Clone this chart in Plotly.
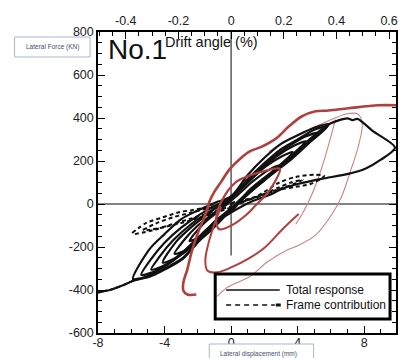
import plotly.graph_objects as go

# ---------------- tick labels ----------------
disp_ticks = [-8, -4, 0, 4, 8]
disp_labels = ["-8", "-4", "0", "4", "8"]
force_ticks = [-600, -400, -200, 0, 200, 400, 600, 800]
force_labels = ["-600", "-400", "-200", "0", "200", "400", "600", "800"]
drift_ticks = [-0.4, -0.2, 0, 0.2, 0.4, 0.6]
drift_labels = ["-0.4", "-0.2", "0", "0.2", "0.4", "0.6"]

# ---------------- total response (black solid), displacement mm / force kN ----------------
loop1_x = [-2.5, -1.8, -0.8, 0.2, 1.2, 2.2, 2.9, 2.3, 1.3, 0.3, -0.7, -1.7, -2.5]
loop1_y = [-172, -150, -85, -10, 60, 125, 178, 160, 105, 35, -30, -95, -172]
loop2_x = [-3.4, -2.6, -1.6, -0.6, 0.4, 1.4, 2.5, 3.7, 3.0, 2.0, 1.0, 0, -1.0, -2.0, -2.8, -3.4]
loop2_y = [-232, -210, -150, -75, 10, 80, 150, 242, 220, 170, 100, 25, -40, -100, -165, -232]
loop3_x = [-4.1, -3.3, -2.3, -1.3, -0.3, 0.7, 1.7, 2.7, 3.7, 4.5, 3.8, 2.8, 1.8, 0.8, -0.2, -1.2, -2.2, -3.3, -4.1]
loop3_y = [-272, -250, -195, -120, -45, 30, 100, 160, 230, 292, 272, 225, 160, 85, 20, -35, -95, -175, -272]
loop4_x = [-4.8, -4.0, -3.0, -2.0, -1.0, 0, 1.0, 2.0, 3.0, 4.2, 5.2, 4.5, 3.5, 2.5, 1.5, 0.5, -0.5, -1.5, -2.5, -3.5, -4.3, -4.8]
loop4_y = [-305, -285, -235, -170, -95, -25, 45, 110, 175, 255, 330, 315, 270, 215, 150, 70, 5, -45, -100, -170, -245, -305]
loop5_x = [-5.4, -4.5, -3.5, -2.5, -1.5, -0.5, 0.5, 1.5, 2.5, 3.5, 4.6, 5.8, 5.0, 4.0, 3.0, 2.0, 1.0, 0, -1.0, -2.0, -3.0, -4.0, -4.8, -5.4]
loop5_y = [-330, -310, -265, -195, -120, -50, 10, 80, 145, 210, 280, 362, 345, 300, 255, 190, 115, 30, -10, -55, -110, -180, -255, -330]
loop6_x = [-5.9, -4.9, -4.0, -2.9, -1.9, -0.9, 0, 1.1, 2.3, 3.5, 4.7, 5.9, 5.0, 4.0, 3.0, 2.0, 1.0, 0, -1.0, -2.0, -3.0, -4.0, -4.9, -5.9]
loop6_y = [-351, -335, -300, -250, -165, -75, -35, 60, 130, 200, 285, 372, 355, 320, 280, 215, 135, 35, 5, -30, -70, -140, -210, -351]
final_x = [-5.9, -4.9, -4.0, -2.9, -1.9, -0.9, 0, 1.1, 2.3, 3.5, 4.7, 5.9, 6.5, 7.0, 7.3, 7.6, 8.5, 9.85,
           9.0, 8.06, 7.04, 5.43, 4.06, 3.04, 2.45, 1.2, 0, -1.0, -2.0, -3.0, -4.0, -5.0, -5.9, -6.5, -7.3, -8.0]
final_y = [-351, -338, -305, -255, -170, -80, -30, 65, 140, 215, 300, 372, 390, 398, 390, 396, 340, 262,
           206, 164, 140, 117, 94, 70, 47, 10, -40, -90, -160, -230, -290, -335, -358, -378, -400, -412]

# ---------------- frame contribution (black dashed) ----------------
frame1_x = [-5.95, -5.1, -4.1, -3.1, -2.3, -1.2, 0, 1.5, 2.9, 3.9, 5.0, 5.6, 4.8, 3.9, 3.0, 2.0, 1.0, 0, -1.2, -2.5, -3.7, -4.7, -5.9]
frame1_y = [-135, -88, -62, -38, -28, -12, 5, 35, 100, 126, 136, 130, 94, 80, 68, 45, 18, -10, -40, -70, -98, -122, -142]
frame2_x = [-5.3, -4.5, -3.5, -2.5, -1.5, 0, 1.5, 2.8, 3.6, 4.3, 3.5, 2.5, 1.2, 0, -1.5, -3.0, -4.3, -5.3]
frame2_y = [-120, -90, -62, -42, -22, 0, 30, 75, 100, 112, 85, 60, 25, -15, -55, -88, -112, -125]
frame_tail_x = [-5.9, -6.5, -7.3, -8.0]
frame_tail_y = [-356, -378, -400, -410]

# ---------------- red overlay curves ----------------
red_outer_x = [9.91, 8.84, 7.04, 5.85, 5.07, 4.24, 3.46, 2.69, 1.85, 1.07, 0.48, -0.12, -0.6, -1.01, -1.31,
               -1.49, -1.91, -2.33, -2.63, -2.87, -2.87, -2.63, -2.09]
red_outer_y = [459, 459, 445, 435, 431, 407, 360, 304, 267, 243, 206, 159, 103, 56, 9,
               -37, -117, -211, -304, -365, -402, -421, -421]
red_lower_x = [4.06, 3.16, 1.97, 1.07, 0, -0.9, -1.43, -1.55, -1.31, -0.96, -0.6]
red_lower_y = [-47, -112, -206, -253, -295, -318, -309, -262, -168, -84, -14]
red_lens_x = [-0.9, -0.6, 0.3, 1.07, 1.85, 2.93, 2.63, 2.15, 1.49, 0.9, 0.06, -0.72, -0.9]
red_lens_y = [-70, 9, 103, 131, 150, 164, 103, 47, -5, -51, -98, -117, -70]
red_thin_x = [2.27, 3.16, 4.06, 5.07, 6.03, 7.04, 7.64, 7.88, 7.64, 7.16, 6.63, 6.03, 5.07, 4.06, 3.34, 2.15, 1.13, -0.24, -0.84]
red_thin_y = [243, 290, 323, 360, 393, 421, 417, 374, 267, 150, 33, -51, -145, -192, -215, -271, -337, -388, -430]
red_thin2_x = [6.27, 6.03, 5.43, 4.84, 4.24, 3.88]
red_thin2_y = [393, 323, 164, 42, -51, -94]


def join(*parts):
    out = []
    for i, p in enumerate(parts):
        if i:
            out.append(None)
        out.extend(p)
    return out


BLACK = "#111111"
RED = "#b0403d"
RED_THIN = "#c98583"

fig = go.Figure()

# red thin curves (drawn first, black on top)
fig.add_trace(go.Scatter(x=red_thin_x, y=red_thin_y, mode="lines", line=dict(color=RED_THIN, width=1.1, shape="spline"),
                         showlegend=False, hoverinfo="skip"))
fig.add_trace(go.Scatter(x=red_thin2_x, y=red_thin2_y, mode="lines", line=dict(color=RED_THIN, width=1.1, shape="spline"),
                         showlegend=False, hoverinfo="skip"))

fig.add_trace(go.Scatter(
    x=join(loop1_x, loop2_x, loop3_x, loop4_x, loop5_x, loop6_x, final_x),
    y=join(loop1_y, loop2_y, loop3_y, loop4_y, loop5_y, loop6_y, final_y),
    mode="lines", line=dict(color=BLACK, width=2.2, shape="spline", smoothing=0.8),
    name="Total response", showlegend=False, hoverinfo="skip", connectgaps=False))
fig.add_trace(go.Scatter(
    x=join(frame1_x, frame2_x, frame_tail_x),
    y=join(frame1_y, frame2_y, frame_tail_y),
    mode="lines", line=dict(color=BLACK, width=2, dash="4px,3px", shape="spline", smoothing=0.8),
    name="Frame contribution", showlegend=False, hoverinfo="skip", connectgaps=False))

fig.add_trace(go.Scatter(x=red_outer_x, y=red_outer_y, mode="lines", line=dict(color=RED, width=2.6, shape="spline"),
                         showlegend=False, hoverinfo="skip"))
fig.add_trace(go.Scatter(x=red_lower_x, y=red_lower_y, mode="lines", line=dict(color=RED, width=2, shape="spline"),
                         showlegend=False, hoverinfo="skip"))
fig.add_trace(go.Scatter(x=red_lens_x, y=red_lens_y, mode="lines", line=dict(color=RED, width=2.2, shape="spline"),
                         showlegend=False, hoverinfo="skip"))

# invisible trace to activate the top (drift) axis
fig.add_trace(go.Scatter(x=[drift_ticks[0]], y=[0], xaxis="x2", yaxis="y", mode="markers",
                         marker=dict(opacity=0), showlegend=False, hoverinfo="skip"))

FONT = "Liberation Sans, Arial, Helvetica, sans-serif"
tickfont = dict(family=FONT, size=12.5, color="#222")

fig.update_layout(
    width=398, height=358,
    margin=dict(l=98, r=0, t=32, b=25),
    paper_bgcolor="white", plot_bgcolor="white",
    font=dict(family=FONT, color="#222"),
    xaxis=dict(range=[-8, 9.91], tickmode="array", tickvals=disp_ticks, ticktext=disp_labels,
               ticks="inside", ticklen=7, tickwidth=1.3, tickcolor="black", ticklabelstandoff=-3,
               minor=dict(tickmode="linear", tick0=0, dtick=1, ticks="inside", ticklen=4, tickwidth=1.2, tickcolor="black"),
               showline=True, linecolor="black", linewidth=1.5, showgrid=False, zeroline=False,
               tickfont=tickfont),
    xaxis2=dict(range=[-8 * 0.0632, 9.91 * 0.0632], overlaying="x", side="top", anchor="y",
                tickmode="array", tickvals=drift_ticks, ticktext=drift_labels,
                ticks="inside", ticklen=7, tickwidth=1.3, tickcolor="black",
                minor=dict(tickmode="linear", tick0=0, dtick=0.05, ticks="inside", ticklen=4, tickwidth=1.2, tickcolor="black"),
                showline=True, linecolor="black", linewidth=1.5, showgrid=False, zeroline=False,
                tickfont=tickfont),
    yaxis=dict(range=[-600, 800], tickmode="array", tickvals=force_ticks, ticktext=force_labels,
               ticks="inside", ticklen=7, tickwidth=1.3, tickcolor="black",
               minor=dict(tickmode="linear", tick0=0, dtick=50, ticks="inside", ticklen=4, tickwidth=1.2, tickcolor="black"),
               showline=True, linecolor="black", linewidth=1.5, mirror="ticks",
               showgrid=False, zeroline=False, tickfont=tickfont),
)

# reference cross lines
fig.add_shape(type="line", xref="x", yref="y", x0=-8, x1=9.91, y0=0, y1=0,
              line=dict(color="#5a5a5a", width=1.5), layer="below")
fig.add_shape(type="line", xref="x", yref="y", x0=0, x1=0, y0=800, y1=-239,
              line=dict(color="#5a5a5a", width=1.5), layer="below")


def px2paper_x(px):
    return (px - 98) / 300.0


def px2paper_y(py):
    return (333 - py) / 301.0


# legend box (drawn manually)
fig.add_shape(type="rect", xref="paper", yref="paper",
              x0=px2paper_x(216), x1=px2paper_x(392), y0=px2paper_y(319), y1=px2paper_y(274),
              line=dict(color="black", width=3), fillcolor="rgba(0,0,0,0)", layer="above")
fig.add_shape(type="line", xref="paper", yref="paper",
              x0=px2paper_x(227), x1=px2paper_x(281), y0=px2paper_y(290), y1=px2paper_y(290),
              line=dict(color=BLACK, width=1.5), layer="above")
fig.add_shape(type="line", xref="paper", yref="paper",
              x0=px2paper_x(227), x1=px2paper_x(276), y0=px2paper_y(305), y1=px2paper_y(305),
              line=dict(color=BLACK, width=1.5, dash="5px,4px"), layer="above")
fig.add_shape(type="line", xref="paper", yref="paper",
              x0=px2paper_x(277), x1=px2paper_x(282), y0=px2paper_y(305), y1=px2paper_y(305),
              line=dict(color=BLACK, width=3), layer="above")
fig.add_annotation(text="Total response", xref="paper", yref="paper", x=px2paper_x(285), y=px2paper_y(290),
                   xanchor="left", yanchor="middle", showarrow=False, font=dict(family=FONT, size=12, color="#111"))
fig.add_annotation(text="Frame contribution", xref="paper", yref="paper", x=px2paper_x(285), y=px2paper_y(305),
                   xanchor="left", yanchor="middle", showarrow=False, font=dict(family=FONT, size=12, color="#111"))

# title texts
fig.add_annotation(text="No.1", xref="paper", yref="paper", x=px2paper_x(106), y=px2paper_y(49),
                   xanchor="left", yanchor="middle", showarrow=False, font=dict(family=FONT, size=28, color="#111"))
fig.add_annotation(text="Drift angle (%)", xref="paper", yref="paper", x=px2paper_x(163), y=px2paper_y(42),
                   xanchor="left", yanchor="middle", showarrow=False, font=dict(family=FONT, size=14.5, color="#111"))

# axis-title boxes
fig.add_shape(type="rect", xref="paper", yref="paper",
              x0=px2paper_x(14), x1=px2paper_x(90), y0=px2paper_y(57), y1=px2paper_y(37),
              line=dict(color="#a9b7d0", width=1), fillcolor="white", layer="above")
fig.add_annotation(text="Lateral Force (KN)", xref="paper", yref="paper", x=px2paper_x(52), y=px2paper_y(47),
                   xanchor="center", yanchor="middle", showarrow=False, font=dict(family=FONT, size=6.5, color="#3f4d6e"))
fig.add_shape(type="rect", xref="paper", yref="paper",
              x0=px2paper_x(210), x1=px2paper_x(315), y0=px2paper_y(362), y1=px2paper_y(344),
              line=dict(color="#a9b7d0", width=1), fillcolor="white", layer="above")
fig.add_annotation(text="Lateral displacement (mm)", xref="paper", yref="paper", x=px2paper_x(260), y=px2paper_y(354),
                   xanchor="center", yanchor="middle", showarrow=False, font=dict(family=FONT, size=6.5, color="#3f4d6e"))

fig.write_html("out.html")
